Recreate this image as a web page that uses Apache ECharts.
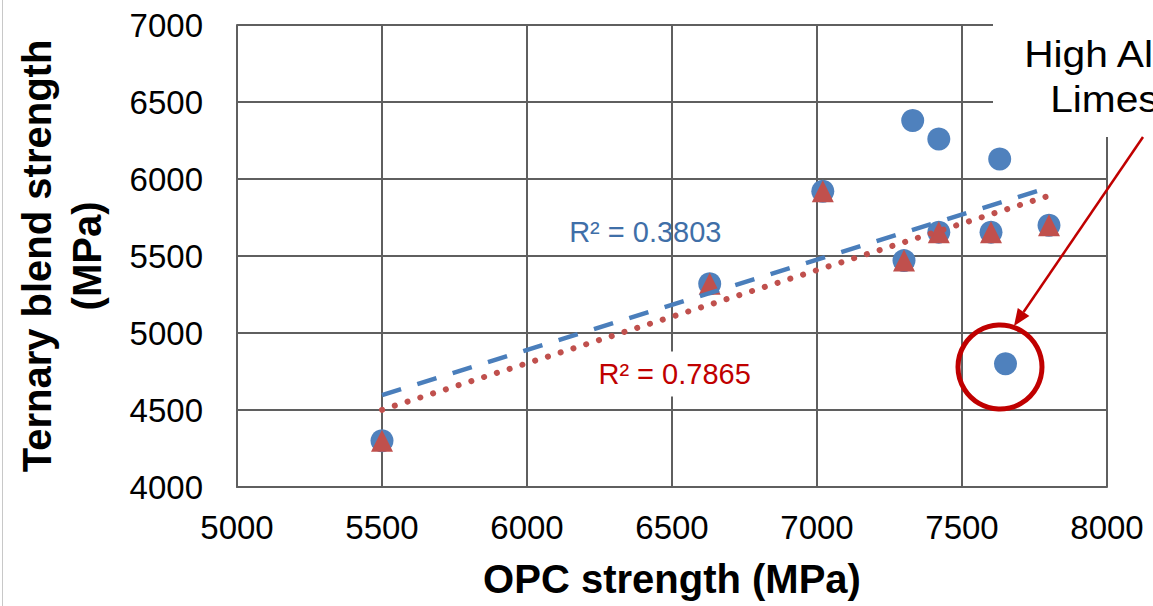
<!DOCTYPE html>
<html>
<head>
<meta charset="utf-8">
<script src="https://cdn.jsdelivr.net/npm/echarts@6/dist/echarts.min.js"></script>
<style>
  html, body { margin: 0; padding: 0; background: #ffffff; }
  #chart { width: 1153px; height: 606px; }
</style>
</head>
<body>
<div id="chart"></div>
<script>
// All mixes: OPC strength vs ternary blend strength (MPa)
const opcStrength      = [5500, 6630, 7020, 7330, 7420, 7630, 7800, 7600, 7420, 7300, 7650];
const ternaryStrength  = [4300, 5320, 5920, 6380, 6260, 6130, 5700, 5655, 5655, 5470, 4800];

// Subset plotted with triangles (second trend)
const opcSubset        = [5500, 6630, 7020, 7300, 7420, 7600, 7800];
const ternarySubset    = [4300, 5320, 5920, 5470, 5655, 5655, 5700];

// Axis ticks
const xTicks = [5000, 5500, 6000, 6500, 7000, 7500, 8000];
const yTicks = [4000, 4500, 5000, 5500, 6000, 6500, 7000];

// Trend-line annotations
const r2AllText    = 'R² = 0.3803';
const r2SubsetText = 'R² = 0.7865';
const r2AllAt      = [6408, 5656];
const r2SubsetAt   = [6509, 4734];

// Highlighted outlier and its callout
const highlightAt  = [7631, 4779];
const calloutLines = ['High Alumina', 'Limestone'];

const FONT = '"Liberation Sans", Arial, sans-serif';
const GRID_COLOR = '#5f5f5f';

// Least-squares line across the x-range of a series
function trend(xs, ys) {
  const n = xs.length;
  const mx = xs.reduce((a, b) => a + b, 0) / n;
  const my = ys.reduce((a, b) => a + b, 0) / n;
  let sxy = 0, sxx = 0;
  for (let i = 0; i < n; i++) {
    sxy += (xs[i] - mx) * (ys[i] - my);
    sxx += (xs[i] - mx) * (xs[i] - mx);
  }
  const b = sxy / sxx, a = my - b * mx;
  const x0 = Math.min(...xs), x1 = Math.max(...xs);
  return [[x0, a + b * x0], [x1, a + b * x1]];
}

const zip = (xs, ys) => xs.map((x, i) => [x, ys[i]]);
const plain = (v) => String(v);

const chart = echarts.init(document.getElementById('chart'), null, { renderer: 'svg', width: 1153, height: 606 });

const axisCommon = {
  type: 'value',
  axisLine: { show: true, lineStyle: { color: GRID_COLOR, width: 2 } },
  axisTick: { show: false },
  splitLine: { show: true, lineStyle: { color: GRID_COLOR, width: 2 } },
  axisLabel: { color: '#000', fontFamily: FONT, fontSize: 33, formatter: plain }
};

chart.setOption({
  animation: false,
  backgroundColor: '#ffffff',
  grid: { left: 237, right: 46, top: 25, bottom: 119, containLabel: false },
  xAxis: Object.assign({}, axisCommon, {
    min: xTicks[0], max: xTicks[xTicks.length - 1], interval: xTicks[1] - xTicks[0],
    axisLabel: Object.assign({}, axisCommon.axisLabel, { margin: 24 }),
    name: 'OPC strength (MPa)', nameLocation: 'middle', nameGap: 72,
    nameTextStyle: { color: '#000', fontFamily: FONT, fontSize: 40, fontWeight: 'bold' }
  }),
  yAxis: Object.assign({}, axisCommon, {
    min: yTicks[0], max: yTicks[yTicks.length - 1], interval: yTicks[1] - yTicks[0],
    axisLabel: Object.assign({}, axisCommon.axisLabel, { margin: 34 })
  }),
  series: [
    {
      name: 'All mixes', type: 'scatter', data: zip(opcStrength, ternaryStrength),
      symbol: 'circle', symbolSize: 23, itemStyle: { color: '#4F81BD', opacity: 1 }, z: 3
    },
    {
      name: 'Subset', type: 'scatter', data: zip(opcSubset, ternarySubset),
      symbol: 'triangle', symbolSize: 22, itemStyle: { color: '#C0504D', opacity: 1 }, z: 4
    },
    {
      name: 'Trend all', type: 'line', data: trend(opcStrength, ternaryStrength),
      showSymbol: false, symbol: 'none', silent: true, z: 5,
      lineStyle: { color: '#4A7EBB', width: 4.5, type: [20, 17], cap: 'butt' }
    },
    {
      name: 'Trend subset', type: 'line', data: trend(opcSubset, ternarySubset),
      showSymbol: false, symbol: 'none', silent: true, z: 5,
      lineStyle: { color: '#C0504D', width: 6, type: [0.1, 13.3], cap: 'round' }
    }
  ]
});

// Annotations placed from data coordinates
const px = (pt) => chart.convertToPixel({ gridIndex: 0 }, pt);
const c = px(highlightAt);
const R = 42;
const arrowStart = [1143, 137];
// arrow tip lands on the upper-right rim of the ring
const tip = [c[0] + 14, c[1] - 41];
const dirX = tip[0] - arrowStart[0], dirY = tip[1] - arrowStart[1];
const dLen = Math.hypot(dirX, dirY);
const ux = dirX / dLen, uy = dirY / dLen;
const headLen = 17, headHalf = 7;
const base = [tip[0] - ux * headLen, tip[1] - uy * headLen];
const head = [
  tip,
  [base[0] - uy * headHalf, base[1] + ux * headHalf],
  [base[0] + uy * headHalf, base[1] - ux * headHalf]
];
const lblAll = px(r2AllAt);
const lblSub = px(r2SubsetAt);

chart.setOption({
  graphic: [
    // frame edge on the left
    { type: 'line', z: 50, shape: { x1: 2.5, y1: 0, x2: 2.5, y2: 606 }, style: { stroke: '#c8c8c8', lineWidth: 1 } },
    // y-axis title
    {
      type: 'text', z: 50, x: 62, y: 256, rotation: Math.PI / 2,
      style: {
        text: 'Ternary blend strength\n(MPa)', fill: '#000',
        font: 'bold 40px ' + FONT, align: 'center', verticalAlign: 'middle', lineHeight: 50
      }
    },
    // R² labels
    {
      type: 'text', z: 60, x: lblAll[0], y: lblAll[1],
      style: { text: r2AllText, fill: '#3F6FA8', font: '29px ' + FONT, align: 'center', verticalAlign: 'middle' }
    },
    {
      type: 'text', z: 60, x: lblSub[0], y: lblSub[1],
      style: {
        text: r2SubsetText, fill: '#C00000', font: '29px ' + FONT, align: 'center', verticalAlign: 'middle',
        backgroundColor: '#ffffff', padding: [8, 6]
      }
    },
    // callout box, text, ring and arrow
    { type: 'rect', z: 70, shape: { x: 993, y: 0, width: 160, height: 137 }, style: { fill: '#ffffff' } },
    {
      type: 'text', z: 71, x: 1144, y: 54, scaleX: 1.1,
      style: { text: calloutLines[0], fill: '#000', font: '37px ' + FONT, align: 'center', verticalAlign: 'middle' }
    },
    {
      type: 'text', z: 71, x: 1144, y: 99, scaleX: 1.1,
      style: { text: calloutLines[1], fill: '#000', font: '37px ' + FONT, align: 'center', verticalAlign: 'middle' }
    },
    {
      type: 'circle', z: 72, shape: { cx: c[0], cy: c[1], r: R },
      style: { fill: 'none', stroke: '#C00000', lineWidth: 5 }
    },
    {
      type: 'line', z: 72, shape: { x1: arrowStart[0], y1: arrowStart[1], x2: base[0], y2: base[1] },
      style: { stroke: '#C00000', lineWidth: 2.5 }
    },
    { type: 'polygon', z: 72, shape: { points: head }, style: { fill: '#C00000' } }
  ]
});
</script>
</body>
</html>
